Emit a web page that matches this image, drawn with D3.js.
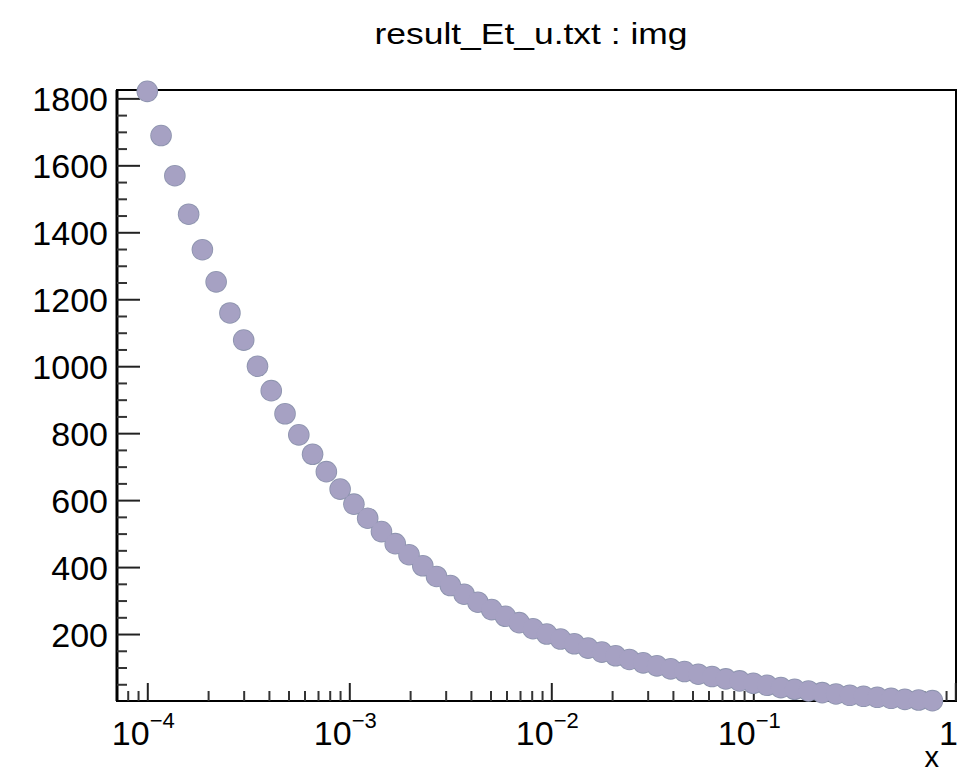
<!DOCTYPE html>
<html>
<head>
<meta charset="utf-8">
<script src="https://cdn.jsdelivr.net/npm/d3@7/dist/d3.min.js"></script>
<style>
  html, body { margin: 0; padding: 0; background: #fff; }
  svg { display: block; }
  text { font-family: "Liberation Sans", Arial, Helvetica, sans-serif; fill: #000; }
</style>
</head>
<body>
<svg id="chart" width="958" height="773"></svg>
<script>
// ---- data ----
const titleText = "result_Et_u.txt : img";
const xAxisTitle = "x";
const xValues = [
  1.000e-4, 1.170e-4, 1.369e-4, 1.602e-4, 1.874e-4, 2.192e-4, 2.565e-4, 3.001e-4, 3.512e-4, 4.108e-4,
  4.807e-4, 5.624e-4, 6.580e-4, 7.699e-4, 9.008e-4, 1.054e-3, 1.233e-3, 1.443e-3, 1.688e-3, 1.975e-3,
  2.311e-3, 2.703e-3, 3.163e-3, 3.701e-3, 4.330e-3, 5.066e-3, 5.927e-3, 6.935e-3, 8.113e-3, 9.493e-3,
  1.111e-2, 1.299e-2, 1.520e-2, 1.779e-2, 2.081e-2, 2.435e-2, 2.849e-2, 3.333e-2, 3.900e-2, 4.563e-2,
  5.339e-2, 6.246e-2, 7.308e-2, 8.551e-2, 1.000e-1, 1.170e-1, 1.369e-1, 1.602e-1, 1.875e-1, 2.193e-1,
  2.566e-1, 3.002e-1, 3.513e-1, 4.110e-1, 4.809e-1, 5.626e-1, 6.583e-1, 7.702e-1
];
const yValues = [
  1821, 1689, 1569, 1454, 1348, 1252, 1159, 1078, 1000, 927,
  858, 795, 737, 685, 633, 588, 546, 506, 470, 437,
  404, 372, 345, 319, 295, 273, 253, 234, 216, 200,
  185, 171, 158, 146, 135, 124, 114, 105, 96, 88,
  80, 73, 66, 60, 53, 47, 40, 35, 30, 25,
  21, 17, 14, 11, 8, 5, 3, 1
];
const xMajorTicks = [1e-4, 1e-3, 1e-2, 1e-1, 1];
const xTickBase = ["10", "10", "10", "10", "1"];
const xTickExp = ["\u22124", "\u22123", "\u22122", "\u22121", ""];
const xMinorTicks = [8e-5, 9e-5,
  2e-4, 3e-4, 4e-4, 5e-4, 6e-4, 7e-4, 8e-4, 9e-4,
  2e-3, 3e-3, 4e-3, 5e-3, 6e-3, 7e-3, 8e-3, 9e-3,
  2e-2, 3e-2, 4e-2, 5e-2, 6e-2, 7e-2, 8e-2, 9e-2,
  2e-1, 3e-1, 4e-1, 5e-1, 6e-1, 7e-1, 8e-1, 9e-1];
const yMajorTicks = [200, 400, 600, 800, 1000, 1200, 1400, 1600, 1800];
const yMinorTicks = [50, 100, 150, 250, 300, 350, 450, 500, 550, 650, 700, 750,
  850, 900, 950, 1050, 1100, 1150, 1250, 1300, 1350, 1450, 1500, 1550,
  1650, 1700, 1750];
const xDomain = [7.08e-5, 1.008];
const yDomain = [0, 1825];

// ---- layout ----
const L = 117, R = 956, T = 90, B = 701;
const svg = d3.select("#chart");
const x = d3.scaleLog().domain(xDomain).range([L, R]);
const y = d3.scaleLinear().domain(yDomain).range([B, T]);

// frame
svg.append("rect")
  .attr("x", L).attr("y", T).attr("width", R - L).attr("height", B - T)
  .attr("fill", "none").attr("stroke", "#000").attr("stroke-width", 2);
svg.append("line").attr("x1", L).attr("x2", L).attr("y1", T).attr("y2", B)
  .attr("stroke", "#000").attr("stroke-width", 3);

// y axis ticks
const yMaj = d3.axisRight(y).tickValues(yMajorTicks).tickSize(23).tickFormat("");
const yMin = d3.axisRight(y).tickValues(yMinorTicks).tickSize(10).tickFormat("");
[[yMaj, "#222"], [yMin, "#333"]].forEach(([ax, c]) => {
  const g = svg.append("g").attr("transform", `translate(${L},0)`).call(ax);
  g.select(".domain").remove();
  g.selectAll(".tick line").attr("stroke", c).attr("stroke-width", 2);
});
svg.append("g").selectAll("text").data(yMajorTicks).join("text")
  .attr("x", 108).attr("y", d => y(d) + 13)
  .attr("text-anchor", "end").attr("font-size", 34)
  .text(d => d);

// x axis ticks
const xMaj = d3.axisBottom(x).tickValues(xMajorTicks).tickSize(-18).tickFormat("");
const xMin = d3.axisBottom(x).tickValues(xMinorTicks).tickSize(-10).tickFormat("");
[[xMaj, "#222"], [xMin, "#333"]].forEach(([ax, c]) => {
  const g = svg.append("g").attr("transform", `translate(0,${B})`).call(ax);
  g.select(".domain").remove();
  g.selectAll(".tick line").attr("stroke", c).attr("stroke-width", 2);
});
const xl = svg.append("g").selectAll("text").data(xMajorTicks).join("text")
  .attr("x", d => d === 1 ? 958 : x(d) - 4).attr("y", 745)
  .attr("text-anchor", d => d === 1 ? "end" : "middle").attr("font-size", 34);
xl.append("tspan").text((d, i) => xTickBase[i]);
xl.append("tspan").attr("dy", -17).attr("font-size", 22).text((d, i) => xTickExp[i]);

// axis title
svg.append("text").attr("x", 939).attr("y", 767).attr("text-anchor", "end")
  .attr("font-size", 29).text(xAxisTitle);

// chart title
svg.append("text").attr("x", 531).attr("y", 44).attr("text-anchor", "middle")
  .attr("font-size", 29).attr("textLength", 313).attr("lengthAdjust", "spacingAndGlyphs")
  .text(titleText);

// points: outline layer underneath, fill layer on top (union outline only)
const pts = xValues.map((d, i) => ({ x: d, y: yValues[i] }));
svg.append("g").selectAll("circle").data(pts).join("circle")
  .attr("cx", d => x(d.x)).attr("cy", d => y(d.y))
  .attr("r", 10.8).attr("fill", "#8d94ae");
svg.append("g").selectAll("circle").data(pts).join("circle")
  .attr("cx", d => x(d.x)).attr("cy", d => y(d.y))
  .attr("r", 10).attr("fill", "#a6a1c3");
</script>
</body>
</html>
